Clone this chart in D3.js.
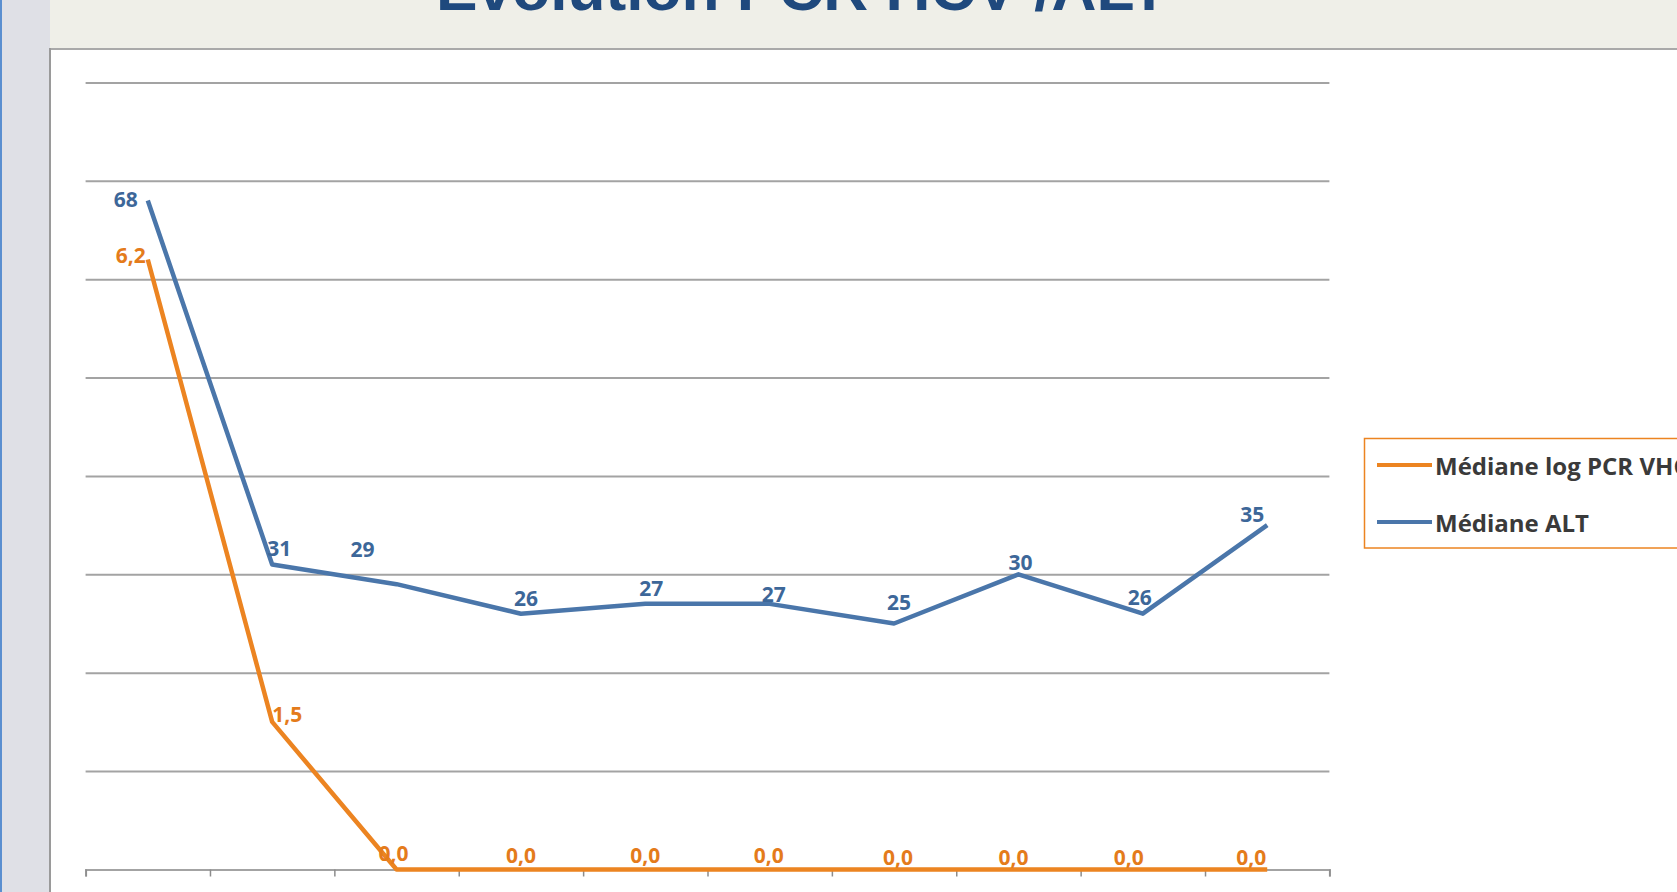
<!DOCTYPE html>
<html>
<head>
<meta charset="utf-8">
<script src="https://cdn.jsdelivr.net/npm/d3@7"></script>
<style>
  html, body { margin: 0; padding: 0; background: #fff; overflow: hidden; }
  svg { display: block; }
</style>
</head>
<body>
<svg id="chart" width="1677" height="892"></svg>
<script>
// chart data (x labels are cut off in the reference, so they are not drawn)
const categories = ["T0", "T1", "T2", "T3", "T4", "T5", "T6", "T7", "T8", "T9"];
const pcrValues = [6.2, 1.5, 0, 0, 0, 0, 0, 0, 0, 0];
const altValues = [68, 31, 29, 26, 27, 27, 25, 30, 26, 35];
const pcrTicks = [0, 1, 2, 3, 4, 5, 6, 7, 8];
const seriesNames = ["Médiane log PCR VHC", "Médiane ALT"];
const title = "Evolution PCR HCV /ALT";

// label nudges (Excel placed these by hand)
const pcrLabelDx = [-17, 15, -3, 0, 0, -1, 4, -5, -14, -16];
const pcrLabelDy = [-4, -8, -17, -15, -15, -15, -13, -13, -13, -13];
const altLabelDx = [-22, 7, -34, 5, 6, 4, 5, 2, -3, -15];
const altLabelDy = [-1, -16, -35, -16, -16, -10, -22, -12, -17, -11];

const orange = '#ec8421';
const orangeText = '#e47b1b';
const blue = '#4a76aa';
const blueText = '#3d6799';

const svg = d3.select('#chart');
const W = 1677, H = 892;

// frame: left strip, header band, borders
svg.append('rect').attr('x', 0).attr('y', 0).attr('width', W).attr('height', H).attr('fill', '#fff');
svg.append('rect').attr('x', 0).attr('y', 0).attr('width', 50).attr('height', H).attr('fill', '#dfe0e6');
svg.append('rect').attr('x', 0).attr('y', 0).attr('width', 2).attr('height', H).attr('fill', '#5b8fd0');
svg.append('rect').attr('x', 50).attr('y', 0).attr('width', W - 50).attr('height', 48).attr('fill', '#efefe8');
svg.append('line').attr('x1', 49).attr('x2', W).attr('y1', 49).attr('y2', 49)
  .attr('stroke', '#a9a9a9').attr('stroke-width', 2);
svg.append('line').attr('x1', 50).attr('x2', 50).attr('y1', 48).attr('y2', H)
  .attr('stroke', '#9a9a9a').attr('stroke-width', 2);

// title, mostly cut off by the top edge as in the reference
svg.append('text')
  .attr('x', 436).attr('y', 10)
  .attr('textLength', 732).attr('lengthAdjust', 'spacingAndGlyphs')
  .attr('font-family', '"Liberation Sans Narrow", "Arial Narrow", "Liberation Sans", sans-serif')
  .attr('font-weight', 'bold').attr('font-size', 62)
  .attr('fill', '#1f497d')
  .text(title);

const margin = { top: 82.4, left: 85.6, right: 1329.4, bottom: 869.5 };

const x = d3.scaleLinear().domain([0, categories.length]).range([margin.left, margin.right]);
const cx = (i) => x(i + 0.5);
const yPcr = d3.scaleLinear().domain([0, 8]).range([margin.bottom, margin.top]);
const yAlt = d3.scaleLinear().domain([0, 80]).range([margin.bottom, margin.top]);

// grid lines
const grid = svg.append('g')
  .attr('transform', `translate(${margin.left},0)`)
  .call(d3.axisLeft(yPcr).tickValues(pcrTicks).tickSize(-(margin.right - margin.left)).tickFormat(''));
grid.select('.domain').remove();
grid.selectAll('line').attr('stroke', '#a3a3a3').attr('stroke-width', 2);

// x axis with ticks at category boundaries
const xAxis = svg.append('g')
  .attr('transform', `translate(0,${margin.bottom})`)
  .call(d3.axisBottom(x).tickValues(d3.range(0, categories.length + 1)).tickSize(7).tickFormat(''));
xAxis.select('.domain').attr('stroke', '#a3a3a3').attr('stroke-width', 2);
xAxis.selectAll('line').attr('stroke', '#8c8c8c').attr('stroke-width', 1.5);

// lines
const altLine = d3.line().x((d, i) => cx(i)).y((d) => yAlt(d));
const pcrLine = d3.line().x((d, i) => cx(i)).y((d) => yPcr(d));

svg.append('path').datum(altValues)
  .attr('fill', 'none').attr('stroke', blue).attr('stroke-width', 4.5)
  .attr('stroke-linejoin', 'round').attr('d', altLine);

svg.append('path').datum(pcrValues)
  .attr('fill', 'none').attr('stroke', orange).attr('stroke-width', 4.5)
  .attr('stroke-linejoin', 'round').attr('d', pcrLine);

// data labels
const fmt = (v) => v.toFixed(1).replace('.', ',');
const labelFont = '"Open Sans", "Liberation Sans", sans-serif';

svg.append('g').selectAll('text')
  .data(altValues).enter().append('text')
  .attr('x', (d, i) => cx(i) + altLabelDx[i])
  .attr('y', (d, i) => yAlt(d) + altLabelDy[i])
  .attr('text-anchor', 'middle').attr('dominant-baseline', 'central')
  .attr('font-family', labelFont).attr('font-weight', 700).attr('font-size', 21)
  .attr('fill', blueText)
  .text((d) => d);

svg.append('g').selectAll('text')
  .data(pcrValues).enter().append('text')
  .attr('x', (d, i) => cx(i) + pcrLabelDx[i])
  .attr('y', (d, i) => yPcr(d) + pcrLabelDy[i])
  .attr('text-anchor', 'middle').attr('dominant-baseline', 'central')
  .attr('font-family', labelFont).attr('font-weight', 700).attr('font-size', 21)
  .attr('fill', orangeText)
  .text((d) => fmt(d));

// legend (runs off the right edge like the reference)
const legend = svg.append('g');
legend.append('rect')
  .attr('x', 1364.5).attr('y', 438.5).attr('width', 400).attr('height', 109.5)
  .attr('fill', '#fff').attr('stroke', orange).attr('stroke-width', 1.5);

const legendColors = [orange, blue];
const legendY = [465, 522];
seriesNames.forEach((name, i) => {
  legend.append('line')
    .attr('x1', 1377).attr('x2', 1432).attr('y1', legendY[i]).attr('y2', legendY[i])
    .attr('stroke', legendColors[i]).attr('stroke-width', 4);
  legend.append('text')
    .attr('x', 1435).attr('y', legendY[i])
    .attr('dominant-baseline', 'central')
    .attr('font-family', labelFont).attr('font-weight', 'bold').attr('font-size', 24)
    .attr('fill', '#3a3a3a')
    .text(name);
});
</script>
</body>
</html>
